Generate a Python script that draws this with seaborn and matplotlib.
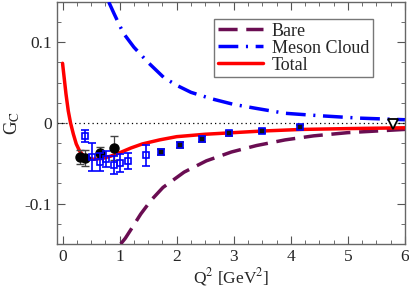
import numpy as np
import pandas as pd
import matplotlib
matplotlib.use("Agg")
import matplotlib.pyplot as plt
import seaborn as sns
from matplotlib.ticker import MultipleLocator

# curves
bare_q = [1.02, 1.1, 1.2, 1.37, 1.55, 1.76, 2.13, 2.52, 2.96, 3.4, 3.9, 4.4, 5.0, 5.5, 6.0]
bare_g = [-0.150, -0.143, -0.132, -0.113, -0.096, -0.080, -0.061, -0.047, -0.036, -0.028, -0.021, -0.016, -0.012, -0.010, -0.008]

meson_q = [0.81, 0.9, 1.0, 1.07, 1.25, 1.5, 1.78, 2.02, 2.25, 2.61, 3.0, 3.4, 3.9, 4.5, 5.2, 6.0]
meson_g = [0.150, 0.136, 0.121, 0.111, 0.094, 0.075, 0.056, 0.046, 0.038, 0.030, 0.023, 0.018, 0.012, 0.009, 0.006, 0.004]

total_q = [0.0, 0.03, 0.06, 0.1, 0.14, 0.19, 0.24, 0.3, 0.36, 0.45, 0.55, 0.7, 0.85, 1.0, 1.2, 1.4, 1.7, 2.0, 2.5, 3.0, 3.5, 4.2, 5.0, 6.0]
total_g = [0.074, 0.055, 0.036, 0.015, 0.0, -0.014, -0.026, -0.035, -0.040, -0.044, -0.045, -0.044, -0.041, -0.037, -0.031, -0.026, -0.021, -0.017, -0.014, -0.012, -0.010, -0.008, -0.007, -0.006]

# data points
circ_q = [0.30, 0.40, 0.65, 0.90]
circ_g = [-0.042, -0.043, -0.037, -0.031]
circ_e = [0.009, 0.010, 0.007, 0.015]

sq_q = [0.40, 0.52, 0.65, 0.76, 0.90, 1.0, 1.15, 1.46]
sq_g = [-0.016, -0.042, -0.048, -0.045, -0.052, -0.050, -0.047, -0.040]
sq_e = [0.007, 0.017, 0.011, 0.010, 0.011, 0.011, 0.010, 0.013]

hq_q = [1.72, 2.06, 2.45, 2.91, 3.50, 4.17]
hq_g = [-0.036, -0.027, -0.020, -0.013, -0.010, -0.005]
hq_e = [0.004, 0.004, 0.004, 0.003, 0.003, 0.003]

tri_q = [5.8]
tri_g = [-0.001]

sns.set_style("ticks")
plt.rcParams["font.family"] = ["Liberation Serif", "DejaVu Serif"]
plt.rcParams["mathtext.fontset"] = "stix"

fig = plt.figure(figsize=(4.09, 2.9), dpi=100)
ax = fig.add_axes([0.139, 0.159, 0.851, 0.834])

ax.axhline(0, color="black", lw=0.9, ls=(0, (1, 2.5)), zorder=1)

sns.lineplot(x=bare_q, y=bare_g, ax=ax, color="#6a0d52", lw=2.5, sort=False,
             label="Bare", zorder=3)
ax.lines[-1].set_dashes([5.5, 2.5])
sns.lineplot(x=meson_q, y=meson_g, ax=ax, color="#0000ff", lw=2.5, sort=False,
             label="Meson Cloud", zorder=3)
ax.lines[-1].set_dashes([5.7, 2.2, 0.6, 2.2])
sns.lineplot(x=total_q, y=total_g, ax=ax, color="#ff0000", lw=2.5, sort=False,
             label="Total", zorder=3)

ax.errorbar(circ_q, circ_g, yerr=circ_e, fmt="o", color="black", ms=6.5,
            ecolor="#444444", elinewidth=0.9, capsize=3, zorder=4)
ax.errorbar(sq_q, sq_g, yerr=sq_e, fmt="s", mfc="none", mec="#0000ff", ms=5,
            mew=1.2, ecolor="#0000ff", elinewidth=1.2, capsize=3, zorder=5)
ax.errorbar(hq_q, hq_g, yerr=hq_e, fmt="s", mfc="#111111", mec="#0000ff", ms=5,
            mew=1.2, ecolor="#444444", elinewidth=0.9, capsize=3, zorder=5)
ax.plot(tri_q, tri_g, "v", mfc="white", mec="black", ms=7, mew=1.3, zorder=5)

ax.set_xlim(-0.1, 6)
ax.set_ylim(-0.15, 0.15)
ax.xaxis.set_major_locator(MultipleLocator(1))
ax.xaxis.set_minor_locator(MultipleLocator(0.25))
ax.yaxis.set_minor_locator(MultipleLocator(0.025))
ax.set_yticks([-0.1, 0, 0.1])
ax.set_yticklabels(["-0.1", "0", "0.1"])
ax.tick_params(which="both", direction="in", top=True, right=True, labelsize=12.5,
               color="#555555")
ax.tick_params(which="major", length=6)
ax.tick_params(which="minor", length=3)
for s in ax.spines.values():
    s.set_color("#666666")
    s.set_linewidth(1.0)

ax.set_xlabel(r"Q$^2$ [GeV$^2$]", fontsize=12.5, labelpad=1)
ax.set_ylabel(r"G$_\mathrm{C}$", fontsize=13.5, labelpad=2)

leg = ax.legend(loc="upper right", bbox_to_anchor=(0.908, 0.93), fontsize=13,
                frameon=True, fancybox=False, edgecolor="#555555",
                handlelength=2.5, handletextpad=0.5, labelspacing=0.0,
                borderpad=0.2, borderaxespad=0.0)
leg.get_frame().set_linewidth(1.0)

fig.savefig("out.png", dpi=100)
